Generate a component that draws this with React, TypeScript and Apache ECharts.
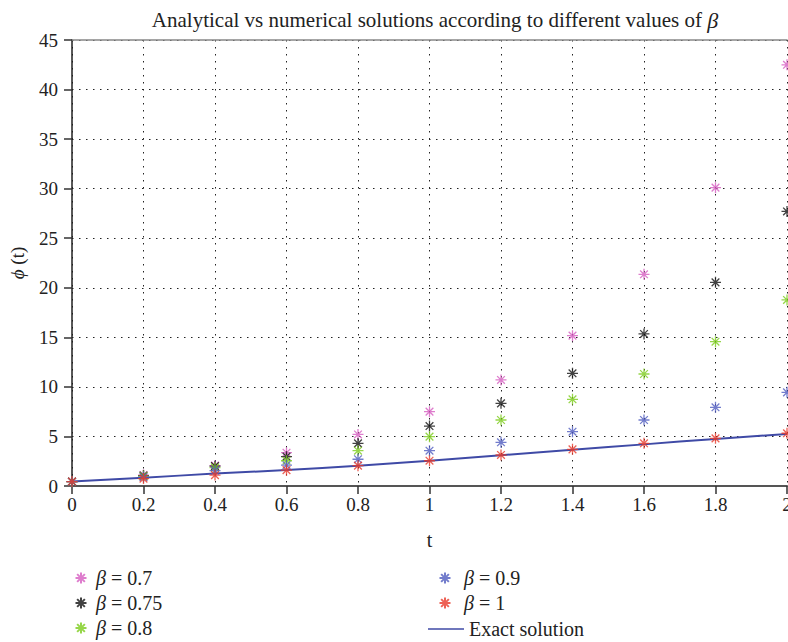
import React, { useEffect, useRef } from "react";
import * as echarts from "echarts";

const tValues = [0, 0.2, 0.4, 0.6, 0.8, 1, 1.2, 1.4, 1.6, 1.8, 2];
const beta07 = [0.45, 1.1, 2.05, 3.36, 5.2, 7.5, 10.7, 15.17, 21.36, 30.1, 42.5];
const beta075 = [0.45, 1.05, 2.0, 2.96, 4.3, 6.05, 8.34, 11.37, 15.34, 20.55, 27.7];
const beta08 = [0.45, 1.0, 1.85, 2.55, 3.56, 4.98, 6.66, 8.75, 11.3, 14.56, 18.77];
const beta09 = [0.45, 0.9, 1.55, 2.1, 2.7, 3.56, 4.41, 5.48, 6.66, 7.94, 9.45];
const beta1 = [0.45, 0.75, 1.1, 1.6, 2.05, 2.55, 3.13, 3.7, 4.31, 4.81, 5.32];
const exact = [0.45, 0.84, 1.25, 1.62, 2.05, 2.55, 3.1, 3.65, 4.2, 4.75, 5.25];

const seriesNames = ["β = 0.7", "β = 0.75", "β = 0.8", "β = 0.9", "β = 1", "Exact solution"];
const seriesColors = ["#d65cc0", "#111111", "#7ccc1c", "#4f5bbf", "#e8392b", "#3f4aa6"];

const STAR = "path://M0,-10L0,10M-10,0L10,0M-7,-7L7,7M-7,7L7,-7";
const FONT = "'Liberation Serif', 'DejaVu Serif', serif";

function pairs(vals: number[]) {
  return tValues.map((t, i) => [t, vals[i]]);
}

export default function App() {
  const ref = useRef<HTMLDivElement>(null);
  useEffect(() => {
    const chart = echarts.init(ref.current!, null, { renderer: "svg" });
    const scatterVals = [beta07, beta075, beta08, beta09, beta1];
    const scatter = scatterVals.map((vals, i) => ({
      type: "scatter",
      name: seriesNames[i],
      data: pairs(vals),
      symbol: STAR,
      symbolSize: 11,
      itemStyle: { color: "none", borderColor: seriesColors[i], borderWidth: 1.3 },
    }));
    const legendText = {
      fontFamily: FONT,
      fontSize: 20,
      color: "#222",
      rich: {
        b: { fontFamily: FONT, fontStyle: "italic", fontSize: 20, color: "#222" },
        n: { fontFamily: FONT, fontSize: 20, color: "#222" },
      },
    };
    const legendFmt = (name: string) =>
      name.startsWith("β") ? `{b|β}{n|${name.slice(1)}}` : `{n|${name}}`;
    // [left, top, itemWidth]
    const legendPos = [
      [73, 568, 20],
      [73, 593, 20],
      [73, 618, 20],
      [437, 568, 28],
      [437, 593, 28],
      [428, 619, 36],
    ];
    const legends = seriesNames.map((n, i) => ({
      data: i === 5 ? [{ name: n, icon: "rect" }] : [n],
      left: legendPos[i][0],
      top: legendPos[i][1],
      itemWidth: legendPos[i][2],
      itemHeight: i === 5 ? 1.5 : 11,
      formatter: legendFmt,
      textStyle: legendText,
      padding: 0,
    }));
    chart.setOption({
      animation: false,
      title: {
        text: "Analytical vs numerical solutions according to different values of {b|β}",
        left: 430,
        textAlign: "center",
        top: 4,
        textStyle: {
          fontFamily: FONT,
          fontWeight: "normal",
          fontSize: 21,
          color: "#222",
          rich: { b: { fontFamily: FONT, fontStyle: "italic", fontSize: 22, color: "#222" } },
        },
      },
      grid: { left: 72, right: 1, top: 40, bottom: 156, containLabel: false, outerBoundsMode: "none" },
      xAxis: [
        {
          type: "value",
          min: 0,
          max: 2,
          interval: 0.2,
          name: "t",
          nameLocation: "middle",
          nameGap: 44,
          nameTextStyle: { fontFamily: FONT, fontSize: 20, color: "#222" },
          axisLine: { lineStyle: { color: "#555", width: 2 } },
          axisTick: { show: true, inside: false, length: 8, lineStyle: { color: "#333", width: 1.5 } },
          axisLabel: {
            fontFamily: FONT,
            fontSize: 19,
            color: "#222",
            margin: 9,
            formatter: (v: number) => String(Math.round(v * 10) / 10),
          },
          splitLine: { show: true, lineStyle: { color: "#222", type: [1.5, 5.5], width: 1 } },
        },
        {
          type: "value",
          position: "top",
          min: 0,
          max: 2,
          axisLine: { show: true, onZero: false, lineStyle: { color: "#888", width: 1.5 } },
          axisTick: { show: false },
          axisLabel: { show: false },
          splitLine: { show: false },
        },
      ],
      yAxis: {
        type: "value",
        min: 0,
        max: 45,
        interval: 5,
        name: "{p|ϕ} (t)",
        nameLocation: "middle",
        nameGap: 45,
        nameRotate: 90,
        nameTextStyle: {
          fontFamily: FONT,
          fontSize: 19,
          color: "#222",
          rich: { p: { fontFamily: FONT, fontStyle: "italic", fontSize: 19, color: "#222" } },
        },
        axisLine: { show: true, lineStyle: { color: "#222", width: 1.5 } },
        axisTick: { show: true, inside: false, length: 8, lineStyle: { color: "#333", width: 1.5 } },
        axisLabel: { fontFamily: FONT, fontSize: 19, color: "#222", margin: 14 },
        splitLine: { show: true, lineStyle: { color: "#222", type: [1.5, 5.5], width: 1 } },
      },
      legend: legends,
      series: [
        ...scatter,
        {
          type: "line",
          name: seriesNames[5],
          data: pairs(exact),
          symbol: "none",
          smooth: true,
          lineStyle: { color: seriesColors[5], width: 2 },
          itemStyle: { color: seriesColors[5] },
          z: 1,
        },
      ],
    });
    return () => chart.dispose();
  }, []);
  return (
    <div
      ref={ref}
      style={{ position: "fixed", left: 0, top: 0, width: 788, height: 642, background: "#fff" }}
    />
  );
}
